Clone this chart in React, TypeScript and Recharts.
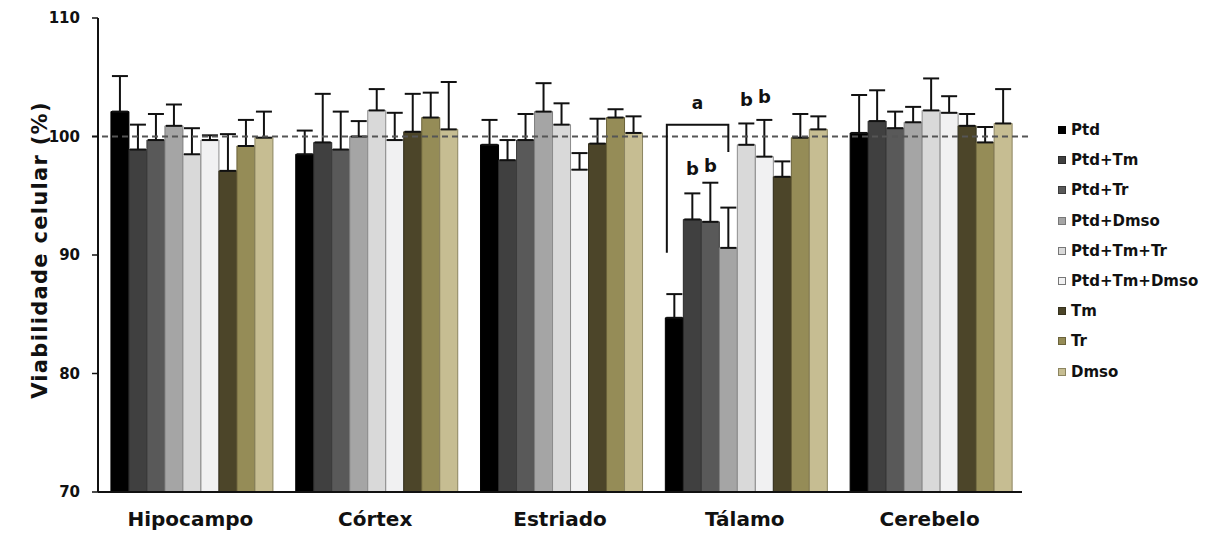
import React from "react";
import {
  BarChart,
  Bar,
  XAxis,
  YAxis,
  ErrorBar,
  ReferenceLine,
  Legend,
  LabelList,
} from "recharts";

const categories = ["Hipocampo", "Córtex", "Estriado", "Tálamo", "Cerebelo"];

const seriesNames = [
  "Ptd",
  "Ptd+Tm",
  "Ptd+Tr",
  "Ptd+Dmso",
  "Ptd+Tm+Tr",
  "Ptd+Tm+Dmso",
  "Tm",
  "Tr",
  "Dmso",
];

const ptd = [102.1, 98.5, 99.3, 84.7, 100.3];
const ptdErr = [3.0, 2.0, 2.1, 2.0, 3.2];
const ptdTm = [98.9, 99.5, 98.0, 93.0, 101.3];
const ptdTmErr = [2.1, 4.1, 1.7, 2.2, 2.6];
const ptdTr = [99.7, 98.9, 99.7, 92.8, 100.7];
const ptdTrErr = [2.2, 3.2, 2.2, 3.3, 1.4];
const ptdDmso = [100.9, 100.0, 102.1, 90.6, 101.2];
const ptdDmsoErr = [1.8, 1.3, 2.4, 3.4, 1.3];
const ptdTmTr = [98.5, 102.2, 101.0, 99.3, 102.2];
const ptdTmTrErr = [2.2, 1.8, 1.8, 1.8, 2.7];
const ptdTmDmso = [99.7, 99.7, 97.2, 98.3, 102.0];
const ptdTmDmsoErr = [0.4, 2.3, 1.4, 3.1, 1.4];
const tm = [97.1, 100.4, 99.4, 96.6, 100.9];
const tmErr = [3.1, 3.2, 2.1, 1.3, 1.0];
const tr = [99.2, 101.6, 101.6, 99.9, 99.5];
const trErr = [2.2, 2.1, 0.7, 2.0, 1.3];
const dmso = [99.9, 100.6, 100.3, 100.6, 101.1];
const dmsoErr = [2.2, 4.0, 1.4, 1.1, 2.9];

const seriesValues = [ptd, ptdTm, ptdTr, ptdDmso, ptdTmTr, ptdTmDmso, tm, tr, dmso];
const seriesErrors = [ptdErr, ptdTmErr, ptdTrErr, ptdDmsoErr, ptdTmTrErr, ptdTmDmsoErr, tmErr, trErr, dmsoErr];

const fills = ["#000000", "#404040", "#595959", "#a5a5a5", "#d9d9d9", "#f1f1f2", "#4c4529", "#958c57", "#c6bd92"];
const strokes = ["#000000", "#2a2a2a", "#3c3c3c", "#7f7f7f", "#8c8c8c", "#8c8c8c", "#34301c", "#6a623a", "#8c8560"];

const yTicks = [70, 80, 90, 100, 110];
const yMin = 70;
const yMax = 110;
const controlLevel = 100;

// significance annotations (Tálamo)
const sigCategory = "Tálamo";
const sigSeries = ["Ptd+Tm", "Ptd+Tr", "Ptd+Tm+Tr", "Ptd+Tm+Dmso"];
const sigLetters = ["b", "b", "b", "b"];
const sigLetterLevels = [96.75, 97.0, 102.6, 102.8];
const bracketLetter = "a";
const bracketTop = 101.0;
const bracketLeftEnd = 90.2;
const bracketRightEnd = 98.7;
const bracketLetterLevel = 102.3;

const keyOf = (i: number) => `s${i}`;
const errKeyOf = (i: number) => `e${i}`;

const data = categories.map((c, ci) => {
  const row: any = { name: c };
  seriesNames.forEach((_, si) => {
    row[keyOf(si)] = seriesValues[si][ci];
    row[errKeyOf(si)] = [0, seriesErrors[si][ci]];
  });
  return row;
});

const FONT = "'DejaVu Sans', sans-serif";
const sigIndex = categories.indexOf(sigCategory);

const yOfFactory = (y: number, height: number, value: number) => {
  const pxu = height / (value - yMin);
  return (v: number) => y + height - (v - yMin) * pxu;
};

const makeSigLabel = (letter: string, level: number) => (props: any) => {
  const { x, y, width, height, value, index } = props;
  if (index !== sigIndex) return null;
  const yOf = yOfFactory(Number(y), Number(height), Number(value));
  return (
    <text
      x={Number(x) + Number(width) / 2}
      y={yOf(level)}
      textAnchor="middle"
      fontFamily={FONT}
      fontWeight="bold"
      fontSize={18}
      fill="#111"
    >
      {letter}
    </text>
  );
};

const bracketLabel = (props: any) => {
  const { x, y, width, height, value, index } = props;
  if (index !== sigIndex) return null;
  const yOf = yOfFactory(Number(y), Number(height), Number(value));
  const lx = Number(x) + 1.5;
  const rx = Number(x) + Number(width) * 3.5;
  return (
    <g>
      <path
        d={`M${lx},${yOf(bracketLeftEnd)} L${lx},${yOf(bracketTop)} L${rx},${yOf(bracketTop)} L${rx},${yOf(bracketRightEnd)}`}
        fill="none"
        stroke="#111"
        strokeWidth={2}
      />
      <text
        x={(lx + rx) / 2}
        y={yOf(bracketLetterLevel)}
        textAnchor="middle"
        fontFamily={FONT}
        fontWeight="bold"
        fontSize={17}
        fill="#111"
      >
        {bracketLetter}
      </text>
    </g>
  );
};

const renderLegend = () => (
  <div style={{ fontFamily: FONT, fontWeight: "bold", fontSize: 15, color: "#111" }}>
    {seriesNames.map((n, i) => (
      <div key={n} style={{ height: 30.2, display: "flex", alignItems: "center" }}>
        <span
          style={{
            display: "inline-block",
            width: 6,
            height: 6,
            background: fills[i],
            border: `1px solid ${i >= 3 && i <= 5 ? "#777" : strokes[i]}`,
            marginRight: 5,
          }}
        />
        <span>{n}</span>
      </div>
    ))}
  </div>
);

const refShape = (p: any) => (
  <line
    x1={Number(p.x1) - 6}
    x2={Number(p.x2) + 8}
    y1={p.y1}
    y2={p.y2}
    stroke="#555"
    strokeWidth={2}
    strokeDasharray="6 4"
  />
);

export default function App() {
  return (
    <div style={{ position: "absolute", left: 0, top: 0, width: 1209, height: 536, background: "#fff" }}>
      <BarChart
        width={1209}
        height={536}
        data={data}
        margin={{ top: 18, right: 37, bottom: 14, left: 0 }}
        barCategoryGap="7%"
        barGap={0}
      >
        <XAxis
          dataKey="name"
          height={30}
          axisLine={{ stroke: "#111", strokeWidth: 2 }}
          tickLine={false}
          tickSize={0}
          tickMargin={20}
          tick={{ fontFamily: FONT, fontWeight: "bold", fontSize: 20, fill: "#111" }}
          interval={0}
        />
        <YAxis
          width={98}
          domain={[yMin, yMax]}
          ticks={yTicks}
          allowDataOverflow
          axisLine={{ stroke: "#111", strokeWidth: 2 }}
          tickLine={{ stroke: "#111", strokeWidth: 1.5 }}
          tickSize={6}
          tickMargin={12}
          tick={{ fontFamily: FONT, fontWeight: "bold", fontSize: 15, fill: "#111" }}
          label={{
            content: () => (
              <text
                x={40}
                y={250}
                transform="rotate(-90, 40, 250)"
                textAnchor="middle"
                dominantBaseline="central"
                fontFamily={FONT}
                fontWeight="bold"
                fontSize={21}
                letterSpacing={1.3}
                fill="#111"
              >
                Viabilidade celular (%)
              </text>
            ),
          }}
        />
        <Legend
          layout="vertical"
          align="right"
          verticalAlign="top"
          content={renderLegend}
          wrapperStyle={{ left: 1058, top: 115, width: 150 }}
        />
        {seriesNames.map((n, si) => {
          const sigPos = sigSeries.indexOf(n);
          return (
            <Bar
              key={n}
              dataKey={keyOf(si)}
              name={n}
              fill={fills[si]}
              stroke={strokes[si]}
              strokeWidth={1}
              isAnimationActive={false}
            >
              <ErrorBar dataKey={errKeyOf(si)} direction="y" width={8} stroke="#111" strokeWidth={2} />
              {si === 0 && <LabelList dataKey={keyOf(si)} content={bracketLabel} />}
              {sigPos >= 0 && (
                <LabelList
                  dataKey={keyOf(si)}
                  content={makeSigLabel(sigLetters[sigPos], sigLetterLevels[sigPos])}
                />
              )}
            </Bar>
          );
        })}
        <ReferenceLine y={controlLevel} shape={refShape} ifOverflow="visible" />
      </BarChart>
    </div>
  );
}
